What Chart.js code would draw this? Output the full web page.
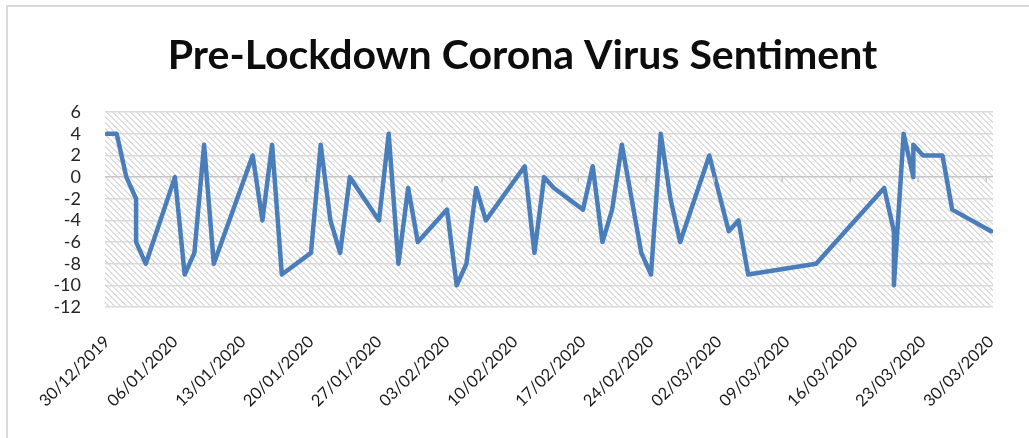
<!DOCTYPE html>
<html>
<head>
<meta charset="utf-8">
<script src="https://cdn.jsdelivr.net/npm/chart.js@4/dist/chart.umd.min.js"></script>
<style>
    html, body { margin: 0; padding: 0; background: #fff; }
    #wrap { position: relative; width: 1029px; height: 438px; overflow: hidden; }
    #frame {
        position: absolute; left: 6px; top: 5px; width: 1100px; height: 500px;
        border-top: 2px solid #d9d9d9; border-left: 2px solid #d9d9d9;
    }
    #chart { position: absolute; left: 0; top: 0; }
</style>
</head>
<body>
<div id="wrap">
    <div id="frame"></div>
    <canvas id="chart" width="1029" height="438"></canvas>
</div>
<script>
    // sentiment score per tweet date (several dates have more than one score)
    const dates = [
        '30/12/2019', '31/12/2019', '01/01/2020', '02/01/2020', '02/01/2020', '03/01/2020',
        '06/01/2020', '07/01/2020', '08/01/2020', '09/01/2020', '10/01/2020',
        '14/01/2020', '15/01/2020', '16/01/2020', '17/01/2020',
        '20/01/2020', '21/01/2020', '22/01/2020', '23/01/2020', '24/01/2020',
        '27/01/2020', '28/01/2020', '29/01/2020', '30/01/2020', '31/01/2020',
        '03/02/2020', '04/02/2020', '05/02/2020', '06/02/2020', '07/02/2020',
        '11/02/2020', '12/02/2020', '13/02/2020', '14/02/2020',
        '17/02/2020', '18/02/2020', '19/02/2020', '20/02/2020', '21/02/2020',
        '23/02/2020', '24/02/2020', '25/02/2020', '26/02/2020', '27/02/2020',
        '01/03/2020', '03/03/2020', '04/03/2020', '05/03/2020',
        '12/03/2020', '19/03/2020', '20/03/2020', '20/03/2020', '21/03/2020',
        '22/03/2020', '22/03/2020', '23/03/2020', '25/03/2020', '26/03/2020',
        '30/03/2020'
    ];
    const scores = [
        4, 4, 0, -2, -6, -8,
        0, -9, -7, 3, -8,
        2, -4, 3, -9,
        -7, 3, -4, -7, 0,
        -4, 4, -8, -1, -6,
        -3, -10, -8, -1, -4,
        1, -7, 0, -1,
        -3, 1, -6, -3, 3,
        -7, -9, 4, -2, -6,
        2, -5, -4, -9,
        -8, -1, -5, -10, 4,
        0, 3, 2, 2, -3,
        -5
    ];
    const tickDates = [
        '30/12/2019', '06/01/2020', '13/01/2020', '20/01/2020', '27/01/2020',
        '03/02/2020', '10/02/2020', '17/02/2020', '24/02/2020', '02/03/2020',
        '09/03/2020', '16/03/2020', '23/03/2020', '30/03/2020'
    ];
    const yTicks = [6, 4, 2, 0, -2, -4, -6, -8, -10, -12];

    const DAY = 86400000;
    const parseDate = (s) => {
        let p = s.split('/');
        return Date.UTC(+p[2], +p[1] - 1, +p[0]);
    };
    const start = parseDate(dates[0]);
    const toDay = (s) => Math.round((parseDate(s) - start) / DAY);
    const fmt = (d) => {
        let dt = new Date(start + d * DAY);
        let dd = String(dt.getUTCDate()).padStart(2, '0');
        let mm = String(dt.getUTCMonth() + 1).padStart(2, '0');
        return dd + '/' + mm + '/' + dt.getUTCFullYear();
    };

    const points = dates.map((d, i) => ({x: toDay(d), y: scores[i]}));
    const xTickVals = tickDates.map(toDay);

    // hatched plot background, like the excel "light downward diagonal"
    function makePattern() {
        const c = document.createElement('canvas');
        c.width = 6;
        c.height = 6;
        const g = c.getContext('2d');
        g.fillStyle = '#fff';
        g.fillRect(0, 0, 6, 6);
        g.fillStyle = '#dedede';
        for (let i = 0; i < 6; i++) {
            g.fillRect(i, i, 1, 1);
            g.fillRect((i + 1) % 6, i, 1, 1);
        }
        return g.createPattern(c, 'repeat');
    }

    const plotBg = {
        id: 'plotBg',
        beforeDraw(chart) {
            const {ctx, chartArea} = chart;
            ctx.save();
            ctx.fillStyle = makePattern();
            ctx.fillRect(chartArea.left, chartArea.top, chartArea.right - chartArea.left, chartArea.bottom - chartArea.top);
            ctx.restore();
        }
    };

    // small tick marks on the zero line (excel axis crosses at 0)
    const zeroTicks = {
        id: 'zeroTicks',
        afterDatasetsDraw(chart) {
            const {ctx, scales, chartArea} = chart;
            const y0 = scales.y.getPixelForValue(0);
            ctx.save();
            ctx.strokeStyle = '#c8c8c8';
            ctx.lineWidth = 1.5;
            xTickVals.forEach(v => {
                const x = scales.x.getPixelForValue(v - 0.5);
                if (x < chartArea.left || x > chartArea.right) return;
                ctx.beginPath();
                ctx.moveTo(x, y0);
                ctx.lineTo(x, y0 + 5);
                ctx.stroke();
            });
            ctx.restore();
        }
    };

    function draw() {
        new Chart(document.getElementById('chart'), {
            type: 'line',
            data: {
                datasets: [{
                    data: points,
                    borderColor: '#4a7ebb',
                    borderWidth: 4.5,
                    borderJoinStyle: 'round',
                    borderCapStyle: 'round',
                    pointRadius: 0,
                    tension: 0,
                    fill: false
                }]
            },
            options: {
                responsive: false,
                animation: false,
                layout: {
                    padding: {left: 52, right: 36, top: 0, bottom: 0}
                },
                plugins: {
                    legend: {display: false},
                    tooltip: {enabled: false},
                    title: {
                        display: true,
                        text: 'Pre-Lockdown Corona Virus Sentiment',
                        color: '#0d0d0d',
                        font: {family: 'Lato', size: 41, weight: 'bold'},
                        padding: {top: 31, bottom: 32}
                    }
                },
                scales: {
                    x: {
                        type: 'linear',
                        min: -0.2,
                        max: 91.2,
                        afterBuildTicks: (scale) => {
                            scale.ticks = xTickVals.map(v => ({value: v}));
                        },
                        afterFit: (scale) => {
                            scale.height = 131;
                        },
                        grid: {display: false},
                        border: {display: false},
                        ticks: {
                            autoSkip: false,
                            minRotation: 45,
                            maxRotation: 45,
                            padding: 17,
                            color: '#1a1a1a',
                            font: {family: 'Lato', size: 16.5},
                            callback: (v) => fmt(v)
                        }
                    },
                    y: {
                        min: -12,
                        max: 6,
                        afterBuildTicks: (scale) => {
                            scale.ticks = yTicks.map(v => ({value: v}));
                        },
                        afterFit: (scale) => {
                            scale.width = 53;
                        },
                        grid: {
                            drawTicks: false,
                            lineWidth: 1.5,
                            color: (c) => c.tick && c.tick.value === 0 ? '#c6c6c6' : '#dadada'
                        },
                        border: {display: false},
                        ticks: {
                            autoSkip: false,
                            padding: 24,
                            color: '#262626',
                            font: {family: 'Lato', size: 18}
                        }
                    }
                }
            },
            plugins: [plotBg, zeroTicks]
        });
    }

    Promise.all([
        document.fonts.load('18px Lato'),
        document.fonts.load('bold 41px Lato')
    ]).then(draw, draw);
</script>
</body>
</html>
